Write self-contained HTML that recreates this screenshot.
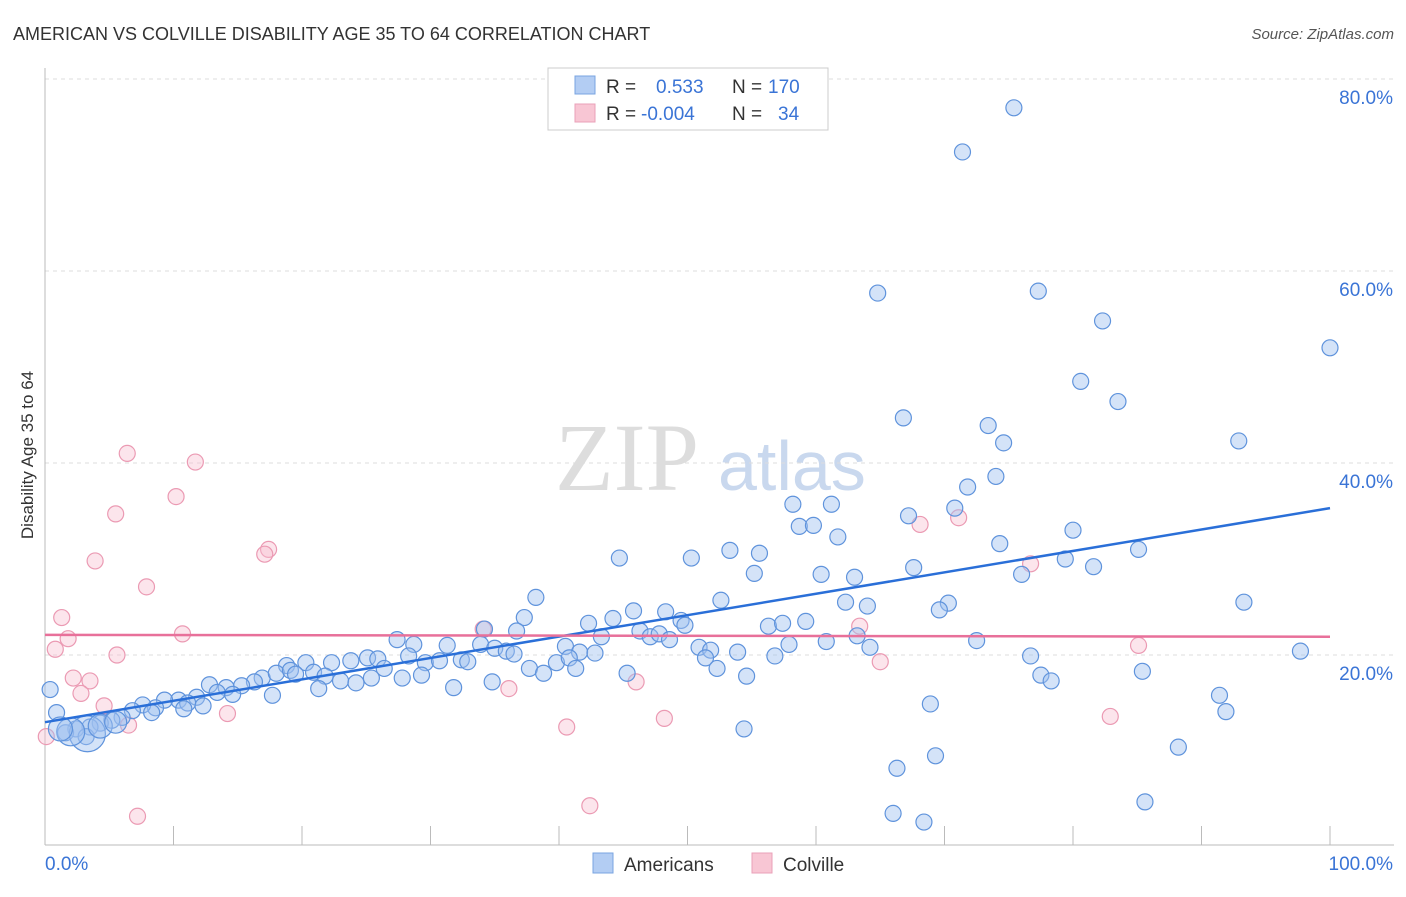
<!DOCTYPE html>
<html><head><meta charset="utf-8"><style>
body{margin:0;background:#fff;font-family:"Liberation Sans",sans-serif}
#c{position:relative;width:1406px;height:892px}
</style></head><body>
<div id="c">
<svg id="s" width="1406" height="892" xmlns="http://www.w3.org/2000/svg">
<text x="13" y="40" font-size="18" fill="#333">AMERICAN VS COLVILLE DISABILITY AGE 35 TO 64 CORRELATION CHART</text>
<text x="1394" y="39" font-size="15" fill="#555" font-style="italic" text-anchor="end">Source: ZipAtlas.com</text>
<text x="0" y="0" transform="translate(33,455) rotate(-90)" font-size="17" fill="#333" text-anchor="middle">Disability Age 35 to 64</text>
<text x="555" y="490" font-size="96" fill="#ddd" font-family="Liberation Serif,serif">ZIP</text>
<text x="718" y="490" font-size="70" fill="#c9d8ee">atlas</text>
<g id="grid"></g><g id="pink"></g><g id="blue"></g><g id="lines"></g>
<g>
<rect x="548" y="68" width="280" height="62" fill="#fff" stroke="#ccc"/>
<rect x="575" y="76" width="20" height="18" fill="#b3cdf3" stroke="#7aa4e0"/>
<rect x="575" y="104" width="20" height="18" fill="#f8c6d4" stroke="#eaa0b8"/>
<text x="606" y="93" font-size="19" fill="#333">R =</text><text x="656" y="93" font-size="19" fill="#3a74d6">0.533</text>
<text x="732" y="93" font-size="19" fill="#333">N =</text><text x="768" y="93" font-size="19" fill="#3a74d6">170</text>
<text x="606" y="120" font-size="19" fill="#333">R =</text><text x="641" y="120" font-size="19" fill="#3a74d6">-0.004</text>
<text x="732" y="120" font-size="19" fill="#333">N =</text><text x="778" y="120" font-size="19" fill="#3a74d6">34</text>
</g>
<g>
<rect x="593" y="853" width="20" height="20" fill="#b3cdf3" stroke="#7aa4e0"/>
<text x="624" y="871" font-size="19" fill="#333">Americans</text>
<rect x="752" y="853" width="20" height="20" fill="#f8c6d4" stroke="#eaa0b8"/>
<text x="783" y="871" font-size="19" fill="#333">Colville</text>
</g>
</svg></div>
<script>
const yTicks=[20,40,60,80];
const yTickLabels=["20.0%","40.0%","60.0%","80.0%"];
const xEndLabels=["0.0%","100.0%"];
const blueX=[75.4,71.4,64.8,77.3,82.3,100,80.6,83.5,66.8,73.4,74.6,92.9,71.8,74.0,58.2,61.2,70.8,67.2,58.7,59.8,61.7,80.0,74.3,53.3,55.6,44.7,50.3,85.1,79.4,67.6,81.6,55.2,60.4,63.0,76.0,38.2,52.6,62.3,64.0,70.3,69.6,93.3,37.3,42.3,44.2,45.8,48.3,49.5,49.8,56.3,57.4,59.2,34.2,36.7,46.3,47.1,47.8,43.3,27.4,28.7,31.3,33.9,40.5,48.6,60.8,63.2,64.2,72.5,50.9,51.8,53.9,57.9,35.0,35.9,36.5,41.6,42.8,51.4,56.8,76.7,97.7,20.3,18.8,22.3,23.8,25.1,25.9,28.3,29.6,30.7,32.4,32.9,26.4,37.7,38.8,39.8,40.8,41.3,45.3,52.3,85.4,77.5,78.3,16.9,18.0,19.1,19.5,20.9,21.8,23.0,24.2,25.4,27.8,29.3,34.8,54.6,16.3,15.3,14.1,12.8,13.4,14.6,17.7,21.3,31.8,11.8,10.4,9.3,11.1,12.3,8.6,7.6,0.4,91.4,91.9,68.9,10.8,8.3,6.8,6.0,5.2,0.9,4.3,3.5,2.4,1.6,3.2,54.4,88.2,69.3,66.3,85.6,66.0,68.4,3.3,2.0,4.3,1.2,5.5];
const blueY=[77.0,72.4,57.7,57.9,54.8,52.0,48.5,46.4,44.7,43.9,42.1,42.3,37.5,38.6,35.7,35.7,35.3,34.5,33.4,33.5,32.3,33.0,31.6,30.9,30.6,30.1,30.1,31.0,30.0,29.1,29.2,28.5,28.4,28.1,28.4,26.0,25.7,25.5,25.1,25.4,24.7,25.5,23.9,23.3,23.8,24.6,24.5,23.6,23.1,23.0,23.3,23.5,22.7,22.5,22.5,21.9,22.2,21.9,21.6,21.1,21.0,21.1,20.9,21.6,21.4,22.0,20.8,21.5,20.8,20.5,20.3,21.1,20.7,20.4,20.1,20.3,20.2,19.7,19.9,19.9,20.4,19.2,18.9,19.2,19.4,19.7,19.6,19.9,19.2,19.4,19.5,19.3,18.6,18.6,18.1,19.2,19.7,18.6,18.1,18.6,18.3,17.9,17.3,17.6,18.1,18.4,18.0,18.2,17.8,17.3,17.1,17.6,17.6,17.9,17.2,17.8,17.2,16.8,16.6,16.9,16.1,15.9,15.8,16.5,16.6,15.6,15.3,15.3,15.0,14.7,14.5,14.8,16.4,15.8,14.1,14.9,14.4,14.0,14.2,13.5,13.2,14.0,12.9,12.5,12.3,11.9,11.5,12.3,10.4,9.5,8.2,4.7,3.5,2.6,11.8,12.0,12.6,12.3,13.0];
const blueR=[];for(let i=0;i<blueX.length;i++)blueR.push(8);
blueR[blueX.length-5]=18;blueR[blueX.length-4]=14;blueR[blueX.length-3]=12;blueR[blueX.length-2]=12;blueR[blueX.length-1]=11;
const pinkX=[6.4,11.7,10.2,5.5,71.1,68.1,17.4,17.1,3.9,76.7,7.9,1.3,34.1,63.4,10.7,1.8,0.8,85.1,5.6,65.0,2.2,3.5,46.0,36.1,2.8,4.6,14.2,82.9,48.2,6.5,40.6,0.1,42.4,7.2];
const pinkY=[41.0,40.1,36.5,34.7,34.3,33.6,31.0,30.5,29.8,29.5,27.1,23.9,22.7,23.0,22.2,21.7,20.6,21.0,20.0,19.3,17.6,17.3,17.2,16.5,16.0,14.7,13.9,13.6,13.4,12.7,12.5,11.5,4.3,3.2];
const blueFit=[13.0,35.3];
const pinkFit=[22.1,21.9];
const NS="http://www.w3.org/2000/svg";
const X=v=>45+v*12.85, Y=v=>847-v*9.6;
function mk(tag,at,par){const e=document.createElementNS(NS,tag);for(const k in at)e.setAttribute(k,at[k]);par.appendChild(e);return e;}
const g=document.getElementById('grid'),svg=document.getElementById('s');
yTicks.forEach((t,i)=>{
 const l=mk('line',{x1:45,x2:1394,y1:Y(t),y2:Y(t),stroke:'#ddd','stroke-dasharray':'4,4'},g);
 
 
 const tx=mk('text',{x:1393,y:Y(t)+25,'font-size':19,fill:'#3a74d6','text-anchor':'end'},g);tx.textContent=yTickLabels[i];
 
 
});
const ax=mk('line',{x1:45,x2:1394,y1:845,y2:845,stroke:'#bbb'},g);


const ay=mk('line',{x1:45,x2:45,y1:68,y2:845,stroke:'#bbb'},g);


for(let i=0;i<=10;i++){mk('line',{x1:X(i*10),x2:X(i*10),y1:826,y2:845,stroke:'#bbb'},g);}
[[0,45,'start'],[1,1393,'end']].forEach(([i,x,a])=>{const t=mk('text',{x:x,y:870,'font-size':19,fill:'#3a74d6','text-anchor':a},g);t.textContent=xEndLabels[i];
 
 });
const pg=document.getElementById('pink');
pinkX.forEach((v,i)=>{const c=mk('circle',{cx:X(v),cy:Y(pinkY[i]),r:8,fill:'rgba(248,190,208,0.4)',stroke:'#eb9ab3','stroke-width':1.2},pg);
 
 });
const bg=document.getElementById('blue');
blueX.forEach((v,i)=>{const c=mk('circle',{cx:X(v),cy:Y(blueY[i]),r:blueR[i],fill:'rgba(160,192,240,0.45)',stroke:'#5f93dc','stroke-width':1.2},bg);
 
 });
const lg=document.getElementById('lines');
const bl=mk('line',{x1:X(0),x2:X(100),y1:Y(blueFit[0]),y2:Y(blueFit[1]),stroke:'#2a6fd8','stroke-width':2.5},lg);


const pl=mk('line',{x1:X(0),x2:X(100),y1:Y(pinkFit[0]),y2:Y(pinkFit[1]),stroke:'#e8709a','stroke-width':2.5},lg);


</script>
</body></html>
